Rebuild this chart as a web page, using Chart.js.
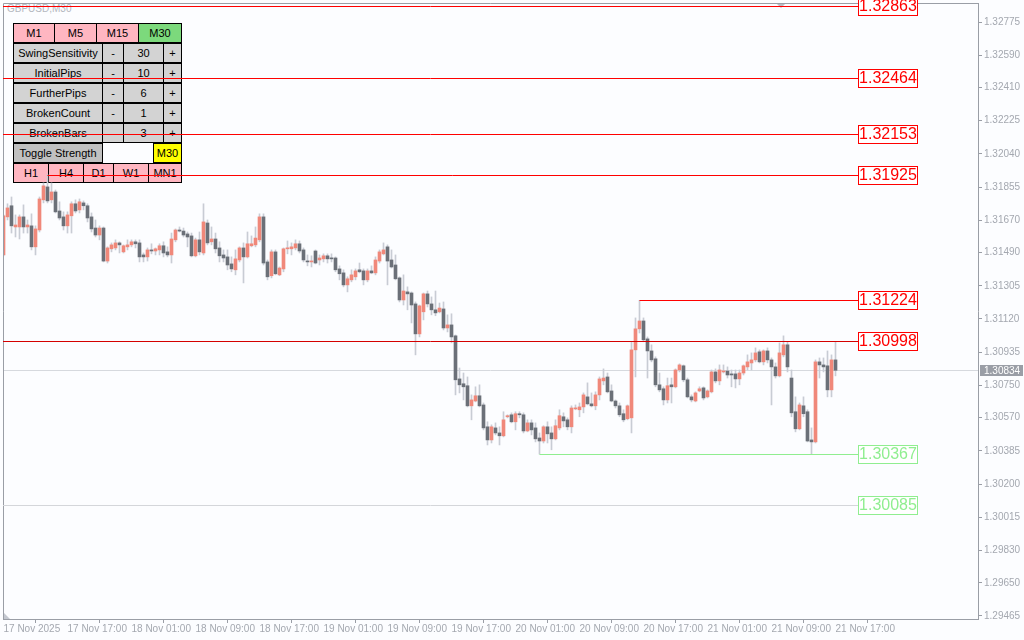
<!DOCTYPE html>
<html>
<head>
<meta charset="utf-8">
<title>GBPUSD,M30</title>
<script src="https://cdn.jsdelivr.net/npm/chart.js@4.4.1/dist/chart.umd.min.js"></script>
<style>
  body { margin: 0; background: #fcfdff; }
  #wrap { position: relative; width: 1024px; height: 640px; overflow: hidden; }
  #panel { position: absolute; left: 0; top: 0; width: 200px; height: 190px; z-index: 0;
           font: 11px "Liberation Sans", Arial, sans-serif; }
  .btn { position: absolute; box-sizing: border-box; height: 20px; border: 1px solid #000;
         text-align: center; line-height: 18px; color: #000; white-space: nowrap; }
  .pink { background: #ffb6c1; }
  .grey { background: #d3d3d3; }
  #sym { position: absolute; left: 7px; top: 3px; font: 10px "Liberation Sans", Arial, sans-serif; color: #b4b8c0; }
  #chart { position: absolute; left: 0; top: 0; z-index: 1; }
</style>
</head>
<body>
<div id="wrap">
  <div id="panel">
    <div id="sym">GBPUSD,M30</div>

    <div class="btn pink" style="left:13px;top:23px;width:42px">M1</div>
    <div class="btn pink" style="left:54px;top:23px;width:43px">M5</div>
    <div class="btn pink" style="left:96px;top:23px;width:43px">M15</div>
    <div class="btn" style="left:138px;top:23px;width:44px;background:#7cd97c">M30</div>

    <div class="btn grey" style="left:13px;top:43px;width:90px">SwingSensitivity</div>
    <div class="btn grey" style="left:102px;top:43px;width:22px">-</div>
    <div class="btn grey" style="left:123px;top:43px;width:41px">30</div>
    <div class="btn grey" style="left:163px;top:43px;width:19px">+</div>

    <div class="btn grey" style="left:13px;top:63px;width:90px">InitialPips</div>
    <div class="btn grey" style="left:102px;top:63px;width:22px">-</div>
    <div class="btn grey" style="left:123px;top:63px;width:41px">10</div>
    <div class="btn grey" style="left:163px;top:63px;width:19px">+</div>

    <div class="btn grey" style="left:13px;top:83px;width:90px">FurtherPips</div>
    <div class="btn grey" style="left:102px;top:83px;width:22px">-</div>
    <div class="btn grey" style="left:123px;top:83px;width:41px">6</div>
    <div class="btn grey" style="left:163px;top:83px;width:19px">+</div>

    <div class="btn grey" style="left:13px;top:103px;width:90px">BrokenCount</div>
    <div class="btn grey" style="left:102px;top:103px;width:22px">-</div>
    <div class="btn grey" style="left:123px;top:103px;width:41px">1</div>
    <div class="btn grey" style="left:163px;top:103px;width:19px">+</div>

    <div class="btn grey" style="left:13px;top:123px;width:90px">BrokenBars</div>
    <div class="btn grey" style="left:102px;top:123px;width:22px"></div>
    <div class="btn grey" style="left:123px;top:123px;width:41px">3</div>
    <div class="btn grey" style="left:163px;top:123px;width:19px">+</div>

    <div class="btn" style="left:13px;top:143px;width:90px;background:#c0c0c0">Toggle Strength</div>
    <div class="btn" style="left:153px;top:143px;width:29px;background:#ffff00">M30</div>

    <div class="btn pink" style="left:13px;top:163px;width:36px">H1</div>
    <div class="btn pink" style="left:48px;top:163px;width:36px">H4</div>
    <div class="btn pink" style="left:83px;top:163px;width:31px">D1</div>
    <div class="btn pink" style="left:113px;top:163px;width:36px">W1</div>
    <div class="btn pink" style="left:148px;top:163px;width:34px">MN1</div>
  </div>
  <canvas id="chart" width="1024" height="640"></canvas>
</div>

<script>
// M30 bars, 17 Nov 09:00 .. 21 Nov 17:00
const opens = [
  1.31477, 1.31689, 1.31751, 1.31633, 1.31633, 1.31689, 1.31633, 1.31639, 1.31522, 1.31616,
  1.31784, 1.31856, 1.31784, 1.31828, 1.31722, 1.31689, 1.31639, 1.31695, 1.31762, 1.31728,
  1.31767, 1.31751, 1.31689, 1.31627, 1.31588, 1.31627, 1.31443, 1.31511, 1.31516, 1.31544,
  1.31494, 1.31522, 1.31533, 1.31550, 1.31544, 1.31477, 1.31466, 1.31505, 1.31499, 1.31505,
  1.31528, 1.31494, 1.31477, 1.31561, 1.31616, 1.31610, 1.31594, 1.31583, 1.31472, 1.31561,
  1.31488, 1.31655, 1.31550, 1.31566, 1.31516, 1.31477, 1.31466, 1.31427, 1.31394, 1.31449,
  1.31516, 1.31466, 1.31528, 1.31533, 1.31561, 1.31689, 1.31438, 1.31361, 1.31494, 1.31366,
  1.31399, 1.31511, 1.31511, 1.31516, 1.31539, 1.31505, 1.31443, 1.31438, 1.31499, 1.31449,
  1.31455, 1.31472, 1.31460, 1.31460, 1.31399, 1.31377, 1.31310, 1.31338, 1.31355, 1.31394,
  1.31388, 1.31338, 1.31388, 1.31377, 1.31443, 1.31483, 1.31522, 1.31449, 1.31421, 1.31349,
  1.31226, 1.31271, 1.31265, 1.31204, 1.31037, 1.31160, 1.31260, 1.31204, 1.31171, 1.31160,
  1.31176, 1.31070, 1.31087, 1.31026, 1.30786, 1.30759, 1.30748, 1.30636, 1.30663, 1.30692,
  1.30641, 1.30519, 1.30446, 1.30513, 1.30485, 1.30469, 1.30575, 1.30586, 1.30547, 1.30592,
  1.30586, 1.30496, 1.30541, 1.30513, 1.30457, 1.30440, 1.30519, 1.30485, 1.30452, 1.30513,
  1.30575, 1.30558, 1.30519, 1.30619, 1.30614, 1.30630, 1.30686, 1.30647, 1.30636, 1.30697,
  1.30775, 1.30797, 1.30719, 1.30663, 1.30636, 1.30592, 1.30564, 1.30569, 1.30948, 1.31065,
  1.31109, 1.31009, 1.30942, 1.30898, 1.30753, 1.30731, 1.30669, 1.30753, 1.30742, 1.30836,
  1.30859, 1.30781, 1.30686, 1.30663, 1.30719, 1.30736, 1.30686, 1.30714, 1.30825, 1.30775,
  1.30825, 1.30830, 1.30814, 1.30814, 1.30786, 1.30819, 1.30853, 1.30875, 1.30892, 1.30937,
  1.30881, 1.30942, 1.30892, 1.30853, 1.30803, 1.30920, 1.30976, 1.30791, 1.30603, 1.30508,
  1.30636, 1.30603, 1.30446, 1.30435, 1.30881, 1.30864, 1.30859, 1.30725, 1.30892
];
const highs = [
  1.31700, 1.31762, 1.31800, 1.31700, 1.31700, 1.31756, 1.31672, 1.31706, 1.31639, 1.31800,
  1.31878, 1.31925, 1.31878, 1.31839, 1.31773, 1.31717, 1.31717, 1.31773, 1.31784, 1.31789,
  1.31778, 1.31762, 1.31711, 1.31672, 1.31639, 1.31633, 1.31522, 1.31544, 1.31561, 1.31550,
  1.31533, 1.31561, 1.31561, 1.31561, 1.31561, 1.31488, 1.31516, 1.31539, 1.31516, 1.31539,
  1.31550, 1.31522, 1.31599, 1.31622, 1.31633, 1.31627, 1.31605, 1.31599, 1.31571, 1.31605,
  1.31762, 1.31672, 1.31633, 1.31599, 1.31550, 1.31505, 1.31505, 1.31466, 1.31505, 1.31522,
  1.31544, 1.31605, 1.31583, 1.31633, 1.31706, 1.31706, 1.31449, 1.31505, 1.31505, 1.31410,
  1.31516, 1.31555, 1.31544, 1.31561, 1.31555, 1.31516, 1.31477, 1.31472, 1.31505, 1.31477,
  1.31483, 1.31483, 1.31483, 1.31466, 1.31416, 1.31394, 1.31355, 1.31394, 1.31399, 1.31432,
  1.31399, 1.31399, 1.31416, 1.31466, 1.31505, 1.31544, 1.31533, 1.31505, 1.31477, 1.31355,
  1.31366, 1.31299, 1.31271, 1.31215, 1.31198, 1.31265, 1.31276, 1.31243, 1.31276, 1.31209,
  1.31215, 1.31143, 1.31149, 1.31031, 1.30847, 1.30819, 1.30797, 1.30697, 1.30742, 1.30753,
  1.30652, 1.30547, 1.30530, 1.30541, 1.30519, 1.30603, 1.30586, 1.30597, 1.30603, 1.30603,
  1.30597, 1.30558, 1.30558, 1.30541, 1.30485, 1.30525, 1.30547, 1.30519, 1.30558, 1.30614,
  1.30597, 1.30569, 1.30636, 1.30641, 1.30652, 1.30708, 1.30764, 1.30708, 1.30714, 1.30797,
  1.30842, 1.30819, 1.30753, 1.30669, 1.30652, 1.30614, 1.30641, 1.30993, 1.31126, 1.31224,
  1.31126, 1.31020, 1.30976, 1.30909, 1.30819, 1.30742, 1.30791, 1.30791, 1.30842, 1.30870,
  1.30864, 1.30791, 1.30697, 1.30714, 1.30742, 1.30742, 1.30725, 1.30836, 1.30842, 1.30864,
  1.30864, 1.30853, 1.30836, 1.30836, 1.30836, 1.30864, 1.30920, 1.30931, 1.30959, 1.30948,
  1.30948, 1.30959, 1.30903, 1.30875, 1.30987, 1.31026, 1.30993, 1.30836, 1.30686, 1.30652,
  1.30686, 1.30614, 1.30513, 1.30892, 1.30903, 1.30903, 1.30942, 1.30920, 1.30993
];
const lows = [
  1.31472, 1.31672, 1.31599, 1.31577, 1.31566, 1.31599, 1.31599, 1.31505, 1.31477, 1.31605,
  1.31767, 1.31767, 1.31767, 1.31711, 1.31672, 1.31616, 1.31599, 1.31599, 1.31711, 1.31711,
  1.31728, 1.31661, 1.31605, 1.31577, 1.31561, 1.31438, 1.31432, 1.31494, 1.31505, 1.31488,
  1.31488, 1.31505, 1.31522, 1.31516, 1.31438, 1.31438, 1.31443, 1.31483, 1.31477, 1.31477,
  1.31466, 1.31466, 1.31432, 1.31550, 1.31605, 1.31577, 1.31522, 1.31466, 1.31466, 1.31477,
  1.31477, 1.31533, 1.31533, 1.31488, 1.31438, 1.31438, 1.31394, 1.31383, 1.31366, 1.31438,
  1.31321, 1.31460, 1.31522, 1.31522, 1.31550, 1.31421, 1.31338, 1.31349, 1.31366, 1.31361,
  1.31383, 1.31483, 1.31477, 1.31505, 1.31488, 1.31438, 1.31416, 1.31410, 1.31427, 1.31421,
  1.31438, 1.31432, 1.31438, 1.31383, 1.31338, 1.31299, 1.31271, 1.31327, 1.31338, 1.31377,
  1.31310, 1.31327, 1.31372, 1.31366, 1.31432, 1.31477, 1.31310, 1.31404, 1.31338, 1.31215,
  1.31198, 1.31171, 1.31098, 1.30920, 1.31020, 1.31115, 1.31187, 1.31143, 1.31138, 1.31154,
  1.31059, 1.31048, 1.30987, 1.30697, 1.30708, 1.30669, 1.30630, 1.30558, 1.30658, 1.30630,
  1.30502, 1.30418, 1.30429, 1.30474, 1.30418, 1.30463, 1.30569, 1.30541, 1.30502, 1.30569,
  1.30485, 1.30491, 1.30474, 1.30435, 1.30367, 1.30429, 1.30429, 1.30391, 1.30446, 1.30502,
  1.30519, 1.30502, 1.30485, 1.30614, 1.30575, 1.30597, 1.30641, 1.30630, 1.30614, 1.30669,
  1.30753, 1.30708, 1.30658, 1.30624, 1.30575, 1.30547, 1.30558, 1.30485, 1.30797, 1.31042,
  1.30993, 1.30791, 1.30881, 1.30742, 1.30714, 1.30641, 1.30652, 1.30652, 1.30736, 1.30825,
  1.30770, 1.30680, 1.30658, 1.30658, 1.30714, 1.30669, 1.30680, 1.30708, 1.30764, 1.30753,
  1.30819, 1.30791, 1.30742, 1.30736, 1.30753, 1.30808, 1.30836, 1.30836, 1.30881, 1.30875,
  1.30864, 1.30875, 1.30641, 1.30791, 1.30797, 1.30909, 1.30825, 1.30575, 1.30491, 1.30502,
  1.30575, 1.30435, 1.30367, 1.30429, 1.30791, 1.30825, 1.30686, 1.30686, 1.30803
];
const closes = [
  1.31695, 1.31739, 1.31639, 1.31644, 1.31689, 1.31633, 1.31644, 1.31522, 1.31622, 1.31789,
  1.31862, 1.31778, 1.31828, 1.31717, 1.31683, 1.31639, 1.31700, 1.31762, 1.31722, 1.31773,
  1.31751, 1.31683, 1.31622, 1.31588, 1.31627, 1.31443, 1.31516, 1.31533, 1.31544, 1.31533,
  1.31528, 1.31533, 1.31550, 1.31539, 1.31466, 1.31466, 1.31505, 1.31499, 1.31511, 1.31528,
  1.31488, 1.31477, 1.31566, 1.31616, 1.31610, 1.31588, 1.31577, 1.31472, 1.31561, 1.31494,
  1.31661, 1.31544, 1.31566, 1.31511, 1.31472, 1.31460, 1.31421, 1.31399, 1.31455, 1.31516,
  1.31466, 1.31539, 1.31539, 1.31571, 1.31689, 1.31432, 1.31355, 1.31494, 1.31372, 1.31404,
  1.31511, 1.31516, 1.31522, 1.31539, 1.31499, 1.31449, 1.31438, 1.31443, 1.31432, 1.31460,
  1.31472, 1.31455, 1.31455, 1.31394, 1.31372, 1.31310, 1.31344, 1.31366, 1.31388, 1.31383,
  1.31338, 1.31388, 1.31377, 1.31449, 1.31494, 1.31505, 1.31443, 1.31410, 1.31344, 1.31226,
  1.31276, 1.31260, 1.31198, 1.31037, 1.31193, 1.31260, 1.31204, 1.31171, 1.31154, 1.31181,
  1.31070, 1.31087, 1.31020, 1.30781, 1.30753, 1.30742, 1.30636, 1.30669, 1.30692, 1.30636,
  1.30513, 1.30446, 1.30519, 1.30485, 1.30469, 1.30558, 1.30581, 1.30547, 1.30592, 1.30586,
  1.30496, 1.30541, 1.30502, 1.30452, 1.30440, 1.30519, 1.30480, 1.30452, 1.30525, 1.30581,
  1.30552, 1.30519, 1.30624, 1.30624, 1.30630, 1.30697, 1.30647, 1.30636, 1.30697, 1.30786,
  1.30791, 1.30714, 1.30663, 1.30636, 1.30586, 1.30558, 1.30636, 1.30948, 1.31065, 1.31109,
  1.31004, 1.30942, 1.30892, 1.30753, 1.30725, 1.30669, 1.30748, 1.30742, 1.30836, 1.30864,
  1.30781, 1.30686, 1.30669, 1.30708, 1.30731, 1.30680, 1.30719, 1.30825, 1.30775, 1.30836,
  1.30830, 1.30808, 1.30808, 1.30786, 1.30819, 1.30859, 1.30881, 1.30892, 1.30931, 1.30881,
  1.30942, 1.30892, 1.30853, 1.30803, 1.30931, 1.30976, 1.30853, 1.30597, 1.30508, 1.30641,
  1.30592, 1.30440, 1.30435, 1.30881, 1.30864, 1.30853, 1.30725, 1.30892, 1.30834
];

// time axis labels, one every 16 bars (8 hours)
const timeLabels = [
  '17 Nov 2025', '17 Nov 17:00', '18 Nov 01:00', '18 Nov 09:00', '18 Nov 17:00',
  '19 Nov 01:00', '19 Nov 09:00', '19 Nov 17:00', '20 Nov 01:00', '20 Nov 09:00',
  '20 Nov 17:00', '21 Nov 01:00', '21 Nov 09:00', '21 Nov 17:00'
];
const barsPerLabel = 16;

const priceTicks = [
  1.32775, 1.32590, 1.32410, 1.32225, 1.32040, 1.31855, 1.31670, 1.31490, 1.31305, 1.31120,
  1.30935, 1.30750, 1.30570, 1.30385, 1.30200, 1.30015, 1.29830, 1.29650, 1.29465
];

// swing levels and the bar each one starts from (null = from the left edge)
const levelPrices = [1.32863, 1.32464, 1.32153, 1.31925, 1.31224, 1.30998, 1.30367, 1.30085];
const levelStartBar = [null, null, null, 11, 159, null, 134, null];
const levelColors = ['#ff0000', '#ff0000', '#ff0000', '#ff0000', '#ff0000', '#d40000', '#90ee90', '#d4d6da'];
const levelTextColors = ['#ff0000', '#ff0000', '#ff0000', '#ff0000', '#ff0000', '#ff0000', '#90ee90', '#90ee90'];
const bidPrice = 1.30834;

const BULL = '#f0887a';
const BEAR = '#6b7078';
const WICK = '#c8ccd4';
const FRAME = '#9a9ea6';
const AXIS_TEXT = '#a4a8b0';
const FONT = '"Liberation Sans", Arial, sans-serif';

const bodies = opens.map((o, i) => ({ x: i, y: [o, closes[i]] }));
const wicks = opens.map((o, i) => ({ x: i, y: [lows[i], highs[i]] }));

function hline(ctx, x0, x1, yy, color) {
  ctx.save();
  ctx.strokeStyle = color;
  ctx.lineWidth = 1;
  ctx.beginPath();
  ctx.moveTo(x0, Math.round(yy) + 0.5);
  ctx.lineTo(x1, Math.round(yy) + 0.5);
  ctx.stroke();
  ctx.restore();
}

// no extra room for the first/last tick labels, the frame is fixed
function fixBox(s, size) {
  if (s.isHorizontal()) s.height = size; else s.width = size;
  s.paddingTop = 0;
  s.paddingBottom = 0;
  s.paddingLeft = 0;
  s.paddingRight = 0;
}

const mtOverlay = {
  id: 'mtOverlay',
  beforeDatasetsDraw(chart) {
    const { ctx, chartArea: a, scales: { y } } = chart;
    hline(ctx, a.left, a.right, y.getPixelForValue(bidPrice), '#d6d9de');
  },
  afterDatasetsDraw(chart) {
    const { ctx, chartArea: a, scales: { x, y } } = chart;
    const labelX = Math.round(x.getPixelForValue(213.625));

    // frame (left and top, the other two are axis borders)
    ctx.save();
    ctx.strokeStyle = FRAME;
    ctx.lineWidth = 1;
    ctx.beginPath();
    ctx.moveTo(a.left + 0.5, a.bottom);
    ctx.lineTo(a.left + 0.5, a.top + 0.5);
    ctx.lineTo(a.right, a.top + 0.5);
    ctx.stroke();
    // little shift markers
    ctx.fillStyle = '#b8bcc4';
    ctx.beginPath();
    ctx.moveTo(777, a.top + 1); ctx.lineTo(785, a.top + 1); ctx.lineTo(781, a.top + 5);
    ctx.fill();
    ctx.fillStyle = '#c4c8d0';
    ctx.beginPath();
    ctx.moveTo(a.left + 1, a.bottom - 6); ctx.lineTo(a.left + 1, a.bottom); ctx.lineTo(a.left + 7, a.bottom);
    ctx.fill();
    ctx.restore();

    levelPrices.forEach((p, k) => {
      const py = y.getPixelForValue(p);
      const x0 = levelStartBar[k] === null ? a.left : x.getPixelForValue(levelStartBar[k]);
      hline(ctx, x0, labelX, py, levelColors[k]);
      const top = Math.round(py) - 9;
      ctx.save();
      ctx.fillStyle = '#ffffff';
      ctx.fillRect(labelX, top, 60, 19);
      ctx.strokeStyle = levelTextColors[k];
      ctx.strokeRect(labelX + 0.5, top + 0.5, 59, 18);
      ctx.fillStyle = levelTextColors[k];
      ctx.font = '16px ' + FONT;
      ctx.textAlign = 'center';
      ctx.textBaseline = 'middle';
      ctx.fillText(p.toFixed(5), labelX + 30, top + 10);
      ctx.restore();
    });

    // bid tag on the price axis
    const by = Math.round(y.getPixelForValue(bidPrice));
    ctx.save();
    ctx.fillStyle = '#9a9ea6';
    ctx.fillRect(a.right + 2, by - 5, 43, 11);
    ctx.fillStyle = '#ffffff';
    ctx.font = '10px ' + FONT;
    ctx.textBaseline = 'middle';
    ctx.fillText(bidPrice.toFixed(5), a.right + 6, by + 1);
    ctx.restore();
  }
};

new Chart(document.getElementById('chart'), {
  type: 'bar',
  data: {
    datasets: [{
      label: 'body',
      data: bodies,
      backgroundColor: (c) => closes[c.dataIndex] >= opens[c.dataIndex] ? BULL : BEAR,
      barThickness: 3,
      minBarLength: 1,
      borderWidth: 0,
      grouped: false,
      order: 1
    }, {
      label: 'wick',
      data: wicks,
      backgroundColor: WICK,
      barThickness: 1,
      borderWidth: 0,
      grouped: false,
      order: 2
    }]
  },
  options: {
    responsive: false,
    animation: false,
    layout: { padding: { left: 3, top: 3, right: 0, bottom: 0 } },
    plugins: { legend: { display: false }, tooltip: { enabled: false } },
    scales: {
      x: {
        type: 'linear',
        min: -0.125,
        max: 243.625,
        offset: false,
        afterBuildTicks: (s) => { s.ticks = timeLabels.map((_, k) => ({ value: k * barsPerLabel })); },
        afterFit: (s) => fixBox(s, 21),
        ticks: {
          callback: (v) => timeLabels[Math.round(v / barsPerLabel)] || '',
          align: 'start',
          maxRotation: 0,
          autoSkip: false,
          color: AXIS_TEXT,
          font: { family: FONT, size: 10 },
          padding: 0
        },
        grid: { drawOnChartArea: false, drawTicks: true, tickLength: 4, color: FRAME },
        border: { display: true, color: FRAME }
      },
      y: {
        position: 'right',
        min: 1.29448,
        max: 1.32881,
        afterBuildTicks: (s) => { s.ticks = priceTicks.map((v) => ({ value: v })); },
        afterFit: (s) => fixBox(s, 46),
        ticks: {
          callback: (v) => v.toFixed(5),
          color: AXIS_TEXT,
          font: { family: FONT, size: 10 },
          padding: 2
        },
        grid: { drawOnChartArea: false, drawTicks: true, tickLength: 4, color: FRAME },
        border: { display: true, color: FRAME }
      }
    }
  },
  plugins: [mtOverlay]
});
</script>
</body>
</html>
